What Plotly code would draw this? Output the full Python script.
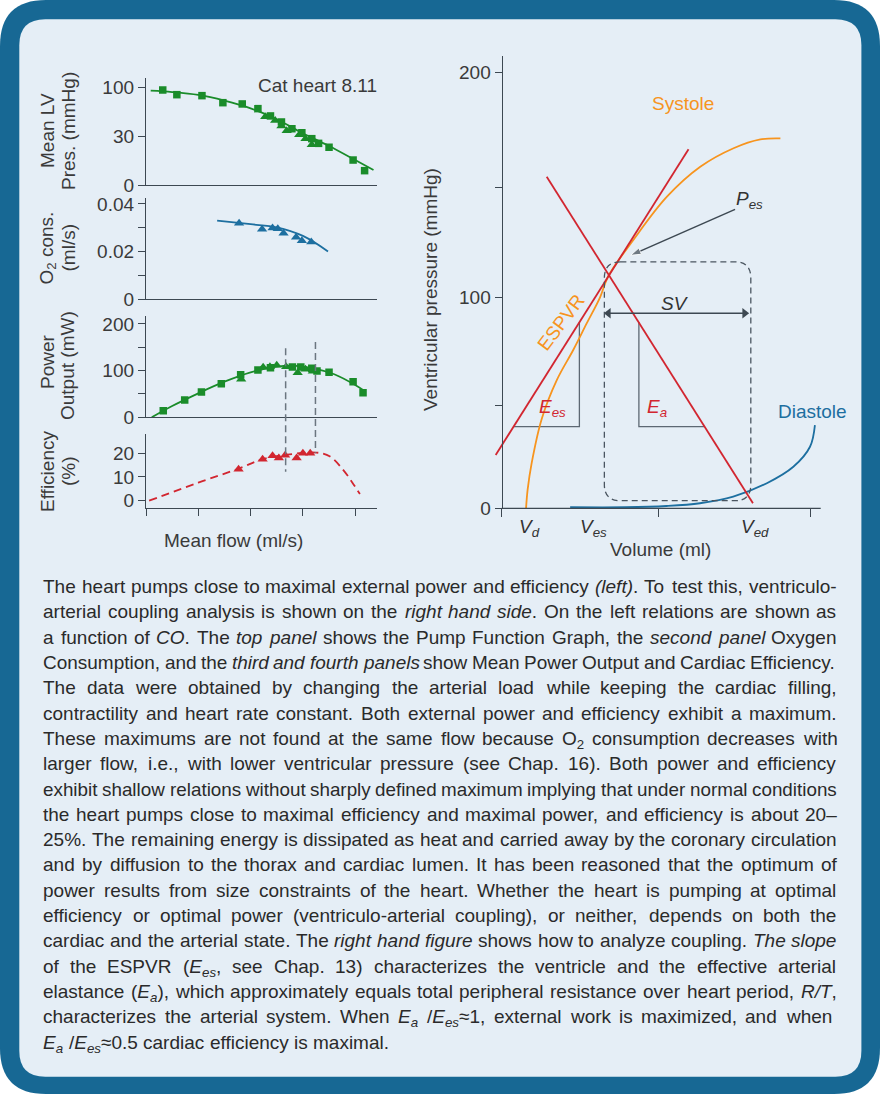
import re
import plotly.graph_objects as go

W, H = 880, 1094

# ---------------- data: left panels (Cat heart 8.11) ----------------
# flow in tick units (ticks unlabeled); pressure in axis units (ticks labelled 0, 30, 100)
pres_sq_flow = [0.32, 0.59, 1.07, 1.47, 1.84, 2.14, 2.38, 2.59, 2.79, 2.98, 3.17, 3.30, 3.50, 3.96, 4.18]
pres_sq = [97.4, 92.6, 91.6, 84.4, 83.1, 78.3, 70.8, 64.6, 57.7, 53.6, 47.5, 42.7, 38.7, 25.6, 14.7]
pres_tri_flow = [2.28, 2.47, 2.59, 2.69, 2.93, 3.05, 3.17]
pres_tri = [70.1, 66.0, 60.5, 55.7, 51.6, 47.5, 41.3]
pres_fit_flow = [0.09, 0.5, 1.0, 1.5, 2.0, 2.5, 3.0, 3.5, 4.0, 4.35]
pres_fit = [96.7, 95.3, 92.3, 86.5, 78.6, 67.4, 53.0, 40.0, 25.6, 15.4]

o2_flow = [1.78, 2.22, 2.42, 2.52, 2.63, 2.87, 2.98, 3.16]
o2_cons = [0.0319, 0.0294, 0.0299, 0.0296, 0.0277, 0.0260, 0.0246, 0.0240]
o2_fit_flow = [1.36, 2.0, 2.5, 3.0, 3.48]
o2_fit = [0.0330, 0.0315, 0.0302, 0.0266, 0.0201]

pow_sq_flow = [0.33, 0.74, 1.06, 1.44, 1.81, 2.14, 2.38, 2.80, 2.96, 3.17, 3.27, 3.50, 3.96, 4.15]
pow_sq = [14.1, 37.1, 54.2, 72.0, 91.3, 101.4, 106.3, 107.8, 107.8, 105.0, 99.2, 96.5, 76.3, 52.7]
pow_tri_flow = [1.82, 2.24, 2.37, 2.50, 2.68, 2.90, 3.05, 3.19]
pow_tri = [81.5, 107.2, 108.5, 111.5, 108.5, 95.6, 102.9, 98.6]
pow_fit_flow = [0.11, 0.5, 1.0, 1.5, 2.0, 2.5, 2.8, 3.2, 3.6, 4.0, 4.15]
pow_fit = [0, 24.2, 51.4, 76.3, 96.4, 108.5, 110.6, 105.0, 92.2, 69.2, 58.5]

eff_flow = [1.77, 2.23, 2.42, 2.54, 2.66, 2.88, 3.00, 3.14]
eff = [13.2, 17.5, 18.9, 18.0, 19.2, 18.0, 20.0, 20.0]
eff_fit_flow = [0.06, 1.0, 1.77, 2.24, 2.7, 3.26, 3.52, 3.77, 3.95, 4.09]
eff_fit = [0, 7.6, 13.5, 17.6, 19.4, 20.3, 18.6, 13.0, 7.5, 2.8]

guide_flow = [2.67, 3.24]
guide_top_power = [147.9, 161.4]
guide_bottom_eff = [12.2, 20.1]

# ---------------- data: right panel (PV diagram) ----------------
espvr_vol = [-1.95, 60.6]
espvr_pres = [25.3, 170.3]
ea_vol = [14.6, 81.5]
ea_pres = [157.3, 2.4]
systole_vol = [7.9, 8.4, 9.7, 13.0, 17.9, 23.2, 27.6, 31.9, 34.6, 42.7, 53.6, 64.4, 75.2, 83.9, 90.4]
systole_pres = [0, 8.7, 21.3, 42.5, 60.9, 75.1, 87.8, 100.1, 110.2, 127.3, 147.8, 162.0, 170.8, 175.0, 175.5]
diastole_vol = [22.2, 40.0, 53.5, 64.3, 75.1, 86.0, 94.6, 100.0, 101.6]
diastole_pres = [0.5, 0.5, 1.1, 2.4, 5.5, 11.9, 19.7, 29.2, 39.5]
loop_vol = [33.3, 80.8]
loop_pres = [3.6, 116.9]
sv_vol = [34.6, 78.8]
sv_pres = [92.5, 92.5]
ees_tri_vol = [3.8, 25.2, 25.2]
ees_tri_pres = [38.7, 38.7, 88.4]
ea_tri_vol = [44.5, 44.5, 65.8]
ea_tri_pres = [88.4, 38.7, 38.7]
pes_arrow_vol = [75.7, 41.8]
pes_arrow_pres = [141.8, 120.0]
vol_labels = ["<i>V<sub>d</sub></i>", "<i>V<sub>es</sub></i>", "<i>V<sub>ed</sub></i>"]
vol_label_x = [8.9, 29.9, 82.2]

caption_lines = [
    "The heart pumps close to maximal external power and efficiency <i>(left)</i>. To test this, ventriculo-",
    "arterial coupling analysis is shown on the <i>right hand side</i>. On the left relations are shown as",
    "a function of <i>CO</i>. The <i>top panel</i> shows the Pump Function Graph, the <i>second panel</i> Oxygen",
    "Consumption, and the <i>third and fourth panels</i> show Mean Power Output and Cardiac Efficiency.",
    "The data were obtained by changing the arterial load while keeping the cardiac filling,",
    "contractility and heart rate constant. Both external power and efficiency exhibit a maximum.",
    "These maximums are not found at the same flow because O<sub>2</sub> consumption decreases with",
    "larger flow, i.e., with lower ventricular pressure (see Chap. 16). Both power and efficiency",
    "exhibit shallow relations without sharply defined maximum implying that under normal conditions",
    "the heart pumps close to maximal efficiency and maximal power, and efficiency is about 20\u2013",
    "25%. The remaining energy is dissipated as heat and carried away by the coronary circulation",
    "and by diffusion to the thorax and cardiac lumen. It has been reasoned that the optimum of",
    "power results from size constraints of the heart. Whether the heart is pumping at optimal",
    "efficiency or optimal power (ventriculo-arterial coupling), or neither, depends on both the",
    "cardiac and the arterial state. The <i>right hand figure</i> shows how to analyze coupling. <i>The slope</i>",
    "of the ESPVR (<i>E<sub>es</sub></i>, see Chap. 13) characterizes the ventricle and the effective arterial",
    "elastance (<i>E<sub>a</sub></i>), which approximately equals total peripheral resistance over heart period, <i>R/T</i>,",
    "characterizes the arterial system. When <i>E<sub>a</sub></i> /<i>E<sub>es</sub></i>\u22481, external work is maximized, and when",
    "<i>E<sub>a</sub></i> /<i>E<sub>es</sub></i>\u22480.5 cardiac efficiency is maximal.",
]

# ---------------- styling ----------------
FONT = "Liberation Sans, Arial, Helvetica, sans-serif"
TXT = "#3a3a3a"
AX = "#3d4852"
GREEN = "#1a8c2a"
BLUE = "#1d6fa0"
RED = "#d22630"
ORANGE = "#f7941e"
GRAY = "#5d6873"
FRAME = "#176894"
PANEL = "#e5eef6"
FS = 19


def py2p(py):
    return 1 - py / H


def px2p(px):
    return px / W


# axis geometry in pixels: (bottom_px, top_px, r0, r1)
P1 = (185.0, 78.0, 0, 109.7)
P2 = (299.3, 198.0, 0, 0.0425)
P3 = (417.3, 316.0, 0, 217.1)
P4 = (508.3, 434.0, -3.2, 28.1)
PR = (508.3, 56.0, 0, 214.56)
LX_PX = (146.0, 377.0)
LX_RANGE = [0, 4.417]
RX_PX = (484.0, 830.0)
RX0, RXS = 501.7, 3.083  # px of volume 0 and px per unit
RX_RANGE = [(RX_PX[0] - RX0) / RXS, (RX_PX[1] - RX0) / RXS]


def yval_to_px(v, ax):
    b, t, r0, r1 = ax
    return b - (v - r0) / (r1 - r0) * (b - t)


fig = go.Figure()


def line(x, y, xa, ya, color, width=1.8, dash=None, shape="spline"):
    fig.add_trace(go.Scatter(x=x, y=y, xaxis=xa, yaxis=ya, mode="lines",
                             line=dict(color=color, width=width, dash=dash, shape=shape, smoothing=1.0),
                             hoverinfo="skip"))


def marks(x, y, xa, ya, color, symbol, size):
    fig.add_trace(go.Scatter(x=x, y=y, xaxis=xa, yaxis=ya, mode="markers",
                             marker=dict(color=color, symbol=symbol, size=size, line=dict(width=0)),
                             hoverinfo="skip"))


# left panels
line(pres_fit_flow, pres_fit, "x", "y", GREEN)
marks(pres_tri_flow, pres_tri, "x", "y", GREEN, "triangle-up", 9)
marks(pres_sq_flow, pres_sq, "x", "y", GREEN, "square", 7.5)

line(o2_fit_flow, o2_fit, "x2", "y2", BLUE)
marks(o2_flow, o2_cons, "x2", "y2", BLUE, "triangle-up", 9)

line(pow_fit_flow, pow_fit, "x3", "y3", GREEN)
marks(pow_tri_flow, pow_tri, "x3", "y3", GREEN, "triangle-up", 9)
marks(pow_sq_flow, pow_sq, "x3", "y3", GREEN, "square", 7.5)

line(eff_fit_flow, eff_fit, "x4", "y4", RED, width=1.8, dash="8px,5px")
marks(eff_flow, eff, "x4", "y4", RED, "triangle-up", 9)

# right panel
line(ees_tri_vol, ees_tri_pres, "x5", "y5", GRAY, width=1.3, shape="linear")
line(ea_tri_vol, ea_tri_pres, "x5", "y5", GRAY, width=1.3, shape="linear")
line(diastole_vol, diastole_pres, "x5", "y5", BLUE, width=1.8)
line(systole_vol, systole_pres, "x5", "y5", ORANGE, width=1.8)
line(espvr_vol, espvr_pres, "x5", "y5", RED, width=1.8, shape="linear")
line(ea_vol, ea_pres, "x5", "y5", RED, width=1.8, shape="linear")

# SV double arrow and Pes arrow
fig.add_trace(go.Scatter(x=sv_vol, y=sv_pres, xaxis="x5", yaxis="y5", mode="lines+markers",
                         line=dict(color="#3d4852", width=1.5),
                         marker=dict(symbol=["triangle-left", "triangle-right"], size=9, color="#3d4852"),
                         hoverinfo="skip"))
fig.add_trace(go.Scatter(x=pes_arrow_vol, y=pes_arrow_pres, xaxis="x5", yaxis="y5", mode="lines+markers",
                         line=dict(color="#3d4852", width=1.5),
                         marker=dict(symbol=["circle", "arrow"], size=[0, 11], angleref="previous",
                                     color="#3d4852"),
                         hoverinfo="skip"))

shapes = []


def rrect_paper(x0, y0, x1, y1, r):
    pts = lambda x, y: f"{px2p(x):.5f},{py2p(y):.5f}"
    return (f"M{pts(x0 + r, y0)} L{pts(x1 - r, y0)} Q{pts(x1, y0)} {pts(x1, y0 + r)} "
            f"L{pts(x1, y1 - r)} Q{pts(x1, y1)} {pts(x1 - r, y1)} L{pts(x0 + r, y1)} "
            f"Q{pts(x0, y1)} {pts(x0, y1 - r)} L{pts(x0, y0 + r)} Q{pts(x0, y0)} {pts(x0 + r, y0)} Z")


shapes.append(dict(type="path", xref="paper", yref="paper", layer="below",
                   path=rrect_paper(0, 0, W, H, 46), fillcolor=FRAME, line=dict(width=0)))
shapes.append(dict(type="path", xref="paper", yref="paper", layer="below",
                   path=rrect_paper(19.3, 19.3, 861.4, 1076.7, 26), fillcolor=PANEL, line=dict(width=0)))

# dashed guides through power and efficiency panels
for gx, gt, gb in zip(guide_flow, guide_top_power, guide_bottom_eff):
    shapes.append(dict(type="line", xref="x4", yref="paper", x0=gx, x1=gx,
                       y0=py2p(yval_to_px(gt, P3)), y1=py2p(yval_to_px(gb, P4)),
                       line=dict(color="#6b7680", width=1.5, dash="7px,4px")))

# PV loop (dashed rounded rectangle)
rx, ry = 16 / RXS, 16 / ((PR[0] - PR[1]) / (PR[3] - PR[2]))
lx0, lx1 = loop_vol
ly0, ly1 = loop_pres
loop_path = (f"M{lx0 + rx},{ly1} L{lx1 - rx},{ly1} Q{lx1},{ly1} {lx1},{ly1 - ry} "
             f"L{lx1},{ly0 + ry} Q{lx1},{ly0} {lx1 - rx},{ly0} L{lx0 + rx},{ly0} "
             f"Q{lx0},{ly0} {lx0},{ly0 + ry} L{lx0},{ly1 - ry} Q{lx0},{ly1} {lx0 + rx},{ly1} Z")
shapes.append(dict(type="path", xref="x5", yref="y5", path=loop_path,
                   line=dict(color="#4a5560", width=1.3, dash="6px,4px")))
# right x axis line
shapes.append(dict(type="line", xref="x5", yref="paper", x0=0, x1=(820.7 - RX0) / RXS,
                   y0=py2p(PR[0]), y1=py2p(PR[0]), line=dict(color=AX, width=1.3)))

ann = []


def text(x, y, s, size=FS, color=TXT, xanchor="center", yanchor="middle", angle=0):
    ann.append(dict(x=px2p(x), y=py2p(y), xref="paper", yref="paper", text=s, showarrow=False,
                    font=dict(size=size, color=color, family=FONT), xanchor=xanchor, yanchor=yanchor,
                    textangle=angle, borderpad=0, borderwidth=0))


# left titles
text(47, 131, "Mean LV", angle=-90)
text(68, 131, "Pres. (mmHg)", angle=-90)
text(47, 248.5, "O<sub>2</sub> cons.", angle=-90)
text(68, 248.5, "(ml/s)", angle=-90)
text(47, 362, "Power", angle=-90)
text(68, 366, "Output (mW)", angle=-90)
text(47, 472, "Efficiency", angle=-90)
text(68, 471, "(%)", angle=-90)
text(377, 86, "Cat heart 8.11", xanchor="right")
text(233, 540, "Mean flow (ml/s)")

# right labels
asc = 0.905 * FS
text(430, 290, "Ventricular pressure (mmHg)", angle=-90)
text(660, 549, "Volume (ml)")
text(682.9, 110 - asc, "Systole", color=ORANGE, yanchor="top")
text(812.4, 418 - asc, "Diastole", color=BLUE, yanchor="top")
text(561, 322.7, "ESPVR", color=ORANGE, angle=-53)
text(552, 413 - asc, "<i>E<sub>es</sub></i>", color=RED, yanchor="top")
text(657, 413 - asc, "<i>E<sub>a</sub></i>", color=RED, yanchor="top")
text(749, 205 - asc, "<i>P<sub>es</sub></i>", color="#333", yanchor="top")
text(675, 310 - asc, "<i>SV</i>", color="#333", yanchor="top")
for lab, vx in zip(vol_labels, vol_label_x):
    text(RX0 + vx * RXS, 533 - asc, lab, color="#333", yanchor="top")

# ---------------- justified caption ----------------
AFM = {}
for ch, w in zip("abcdefghijklmnopqrstuvwxyz",
                 [556, 556, 500, 556, 556, 278, 556, 556, 222, 222, 500, 222, 833, 556, 556, 556, 556, 333, 500,
                  278, 556, 500, 722, 500, 500, 500]):
    AFM[ch] = w
for ch, w in zip("ABCDEFGHIJKLMNOPQRSTUVWXYZ",
                 [667, 667, 722, 722, 667, 611, 778, 722, 278, 500, 667, 556, 833, 722, 778, 667, 778, 722, 667,
                  611, 722, 667, 944, 667, 667, 611]):
    AFM[ch] = w
for ch in "0123456789":
    AFM[ch] = 556
AFM.update({" ": 278, ".": 278, ",": 278, "(": 333, ")": 333, "-": 333, "/": 278, "%": 889,
            "\u2248": 584, "\u2013": 556, ":": 278, ";": 278})


def measure(s):
    tot, sub = 0.0, False
    for part in re.split(r"(<[^>]+>)", s):
        if part.startswith("<"):
            if part == "<sub>":
                sub = True
            elif part == "</sub>":
                sub = False
            continue
        for ch in part:
            tot += AFM.get(ch, 556) / 1000 * (0.7 if sub else 1.0)
    return tot


CAP_LEFT = 43.3
CAP_RIGHT = 836.5
CAP_BASE0 = 593.3
CAP_STEP = 25.3
for i, ln in enumerate(caption_lines):
    toks = ln.split()
    html, ital = [], False
    for t in toks:
        s = ("<i>" if ital else "") + t
        a, b = t.rfind("<i>"), t.rfind("</i>")
        if a > b:
            ital = True
        elif b > a:
            ital = False
        if ital:
            s += "</i>"
        html.append(s)
    ems = [measure(h) for h in html]
    f = FS
    last = i == len(caption_lines) - 1
    right = 831.0 if i == 17 else CAP_RIGHT
    if last:
        gap = 0.278 * f
    else:
        gap = (right - CAP_LEFT - sum(ems) * f) / (len(html) - 1)
        if gap < 0.24 * f:
            f = (right - CAP_LEFT) / (sum(ems) + 0.24 * (len(html) - 1))
            gap = 0.24 * f
    base = CAP_BASE0 + i * CAP_STEP
    x = CAP_LEFT
    for h, e in zip(html, ems):
        ann.append(dict(x=px2p(x), y=py2p(base - 0.905 * f), xref="paper", yref="paper", text=h,
                        showarrow=False, xanchor="left", yanchor="top", borderpad=0, borderwidth=0,
                        font=dict(size=f, color="#2a2a2a", family=FONT)))
        x += e * f + gap

# ---------------- axes ----------------
common = dict(showgrid=False, zeroline=False, fixedrange=True)


def ycfg(ax, anchor, tickvals, ticktext, minor_vals=None):
    b, t, r0, r1 = ax
    d = dict(domain=[py2p(b), py2p(t)], range=[r0, r1], anchor=anchor, showline=True, linecolor=AX,
             linewidth=1.3, ticks="outside", ticklen=7, tickwidth=1.3, tickcolor=AX,
             tickmode="array", tickvals=tickvals, ticktext=ticktext,
             tickfont=dict(size=FS, color=TXT, family=FONT), **common)
    if minor_vals:
        d["minor"] = dict(tickmode="array", tickvals=minor_vals, ticks="outside", ticklen=7,
                          tickwidth=1.3, tickcolor=AX, showgrid=False)
    return d


def xcfg(anchor, ticks=False):
    d = dict(domain=[px2p(LX_PX[0]), px2p(LX_PX[1])], range=LX_RANGE, anchor=anchor, showline=True,
             linecolor=AX, linewidth=1.3, showticklabels=False, **common)
    if ticks:
        d.update(ticks="outside", ticklen=7, tickwidth=1.3, tickcolor=AX, tickmode="array",
                 tickvals=[0, 1, 2, 3, 4])
    else:
        d.update(ticks="")
    return d


fig.update_layout(
    template="none",
    width=W, height=H,
    margin=dict(l=0, r=0, t=0, b=0, pad=0),
    paper_bgcolor="white",
    plot_bgcolor="rgba(0,0,0,0)",
    showlegend=False,
    font=dict(family=FONT, size=FS, color=TXT),
    xaxis=xcfg("y"),
    yaxis=ycfg(P1, "x", [0, 50, 100], ["0", "30", "100"]),
    xaxis2=xcfg("y2"),
    yaxis2=ycfg(P2, "x2", [0, 0.02, 0.04], ["0", "0.02", "0.04"], [0.01, 0.03]),
    xaxis3=xcfg("y3"),
    yaxis3=ycfg(P3, "x3", [0, 100, 200], ["0", "100", "200"], [50, 150]),
    xaxis4=xcfg("y4", ticks=True),
    yaxis4=ycfg(P4, "x4", [0, 10, 20], ["0", "10", "20"]),
    xaxis5=dict(domain=[px2p(RX_PX[0]), px2p(RX_PX[1])], range=RX_RANGE, anchor="y5", showline=False,
                ticks="outside", ticklen=8, tickwidth=1.3, tickcolor=AX, tickmode="array",
                tickvals=[0, 51, 100], showticklabels=False, **common),
    yaxis5=dict(ycfg(PR, "free", [0, 100, 206.8], ["0", "100", "200"], [49, 152.4]),
                position=px2p(RX0)),
    shapes=shapes,
    annotations=ann,
)

fig.write_html("out.html", config={"displayModeBar": False},
               post_script="document.body.style.margin='0px';document.body.style.overflow='hidden';")
